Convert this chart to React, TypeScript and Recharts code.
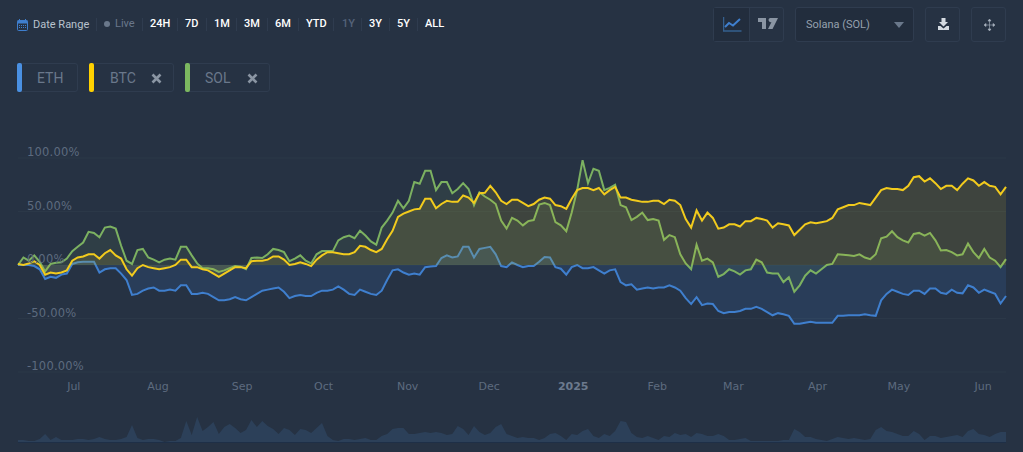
import { ComposedChart, AreaChart, Area, XAxis, YAxis, CartesianGrid } from 'recharts';

// % change, one reading every 2 days from Jun 11 2024
const ethValues = [
  0, 0, 0, -1, -4, -13, -11, -12, -9, -8, 1, 2.5, 3, 3, 3, -7, -4, -3, -3, -8,
  -14, -28, -27, -24, -22, -21, -24, -24, -23, -24, -19, -19, -27, -27, -26, -27, -30, -33, -33, -32,
  -30, -32, -33, -30, -27, -24, -23, -22, -21, -25, -31, -29, -28, -29, -29, -26, -24, -24, -23, -20,
  -23, -27, -28, -23, -25, -27, -28, -24, -14, -5, -4, -7, -9, -8, -9, -2, -1.5, -1, 6.5, 9,
  7, 8, 17, 17, 7, 15, 16, 17, 10, -1, -2, 2.5, 0, -2, -1, -1, 3, 7.5, 7, -2,
  -3.5, -9, -2, 0, -3, -3, -2, -5, -8, -5, -4, -16, -19, -18, -23, -22, -21, -22, -21, -21,
  -19, -21, -24, -31, -36.5, -30, -37.5, -36, -36.5, -43, -45, -44, -44, -43, -41, -41, -39, -41, -44, -47,
  -45, -46, -47.5, -55, -55, -54, -53, -54, -54, -54, -54, -47.5, -47.5, -47, -47, -47, -46, -47, -47.5, -33,
  -27, -23, -25, -27, -28, -24, -24, -27, -22, -22, -26, -27, -23, -26, -26.5, -19, -21, -26, -23, -25,
  -27, -36, -29,
];
const btcValues = [
  1, 0, 1.5, 3.5, 0, -9, -7, -8, -7, -5, 4, 7, 8, 10, 10, 6, 11, 14, 9, 6,
  -4, -10, -3, 0, -2, -3, -4, -3, -2, 0, 5, 5, -2, -2, -4, -5, -8, -11, -8, -5,
  -2, -2, -3, 3.5, 4, 4, 5, 8, 8, 5, 0, 1, 2.5, 1, -1, 5, 9, 12, 12, 11,
  10, 10, 12, 18, 17, 14, 12, 15, 24, 32, 45, 48, 50, 52, 52.5, 62, 62, 53, 57, 60,
  59, 59, 65, 63, 58, 67, 67.5, 74, 68, 60, 57, 61, 61, 58, 55, 57, 61, 63, 62, 56,
  55, 52.5, 62, 70, 72, 72, 70, 72, 66, 70, 73, 63, 63, 61, 60, 59, 59, 60, 60, 57,
  61, 60, 56, 43, 35, 51, 41.5, 49, 44, 34, 35, 38, 38, 36, 41, 41, 44, 43, 41.5, 35,
  39, 38, 37, 28, 33, 38, 40, 39, 40, 41, 44, 52, 54, 56, 56, 58, 57, 56, 63, 70,
  72, 71, 71, 70, 74, 82, 83, 78, 81, 76.5, 71, 74, 74, 70, 76, 81, 79, 74, 77.5, 74,
  73, 66, 73,
];
const solValues = [
  0, 7, 4, 9, 3, -6, 1, 2, 2.5, 6, 13, 17, 21, 31, 30, 26, 35, 36, 34, 18,
  4, 1, 14, 15, 7, 5, 2.5, 5, 6, 5, 17, 17, 9, 1.5, -3, -3, -4, -6.5, -5, -3,
  -1, -1.5, -4, 6.5, 7, 6.5, 10, 15, 14, 12, 3.5, 6, 9, 4, 1.5, 10, 13, 13, 13, 23,
  26, 27.5, 25, 32, 27.5, 22, 19, 35, 41.5, 49, 60, 53, 60, 77.5, 76, 88, 88, 70, 77.5, 77.5,
  67, 71, 76.5, 71, 56, 68, 64, 61, 57, 41.5, 34, 44, 41.5, 37, 41, 42, 56.5, 58, 56, 40,
  37, 31.5, 49, 70, 98, 76.5, 90, 88, 70, 72, 75, 56, 54, 42, 45, 49, 42, 43, 41.5, 23.5,
  28, 26, 10, 1.5, -4, 19, 4, 6, 2.5, -11, -8.5, -4, -6, -9, -5, -4, 5, 2.5, -7, -8,
  -8, -16, -11.5, -25, -19, -10, -5, -8, -4, 0, 1, 10, 9.5, 9, 8.5, 10, 7, 5.5, 10, 25,
  26.5, 31.5, 26, 23, 21, 29, 30, 27.5, 30, 23, 13.5, 14, 12, 9, 10, 20, 12, 6.5, 15, 7,
  4, -2, 5.5,
];
const volumeValues = [
  3, 3, 2, 2, 4, 9, 3, 6, 3, 3, 3, 4, 4, 3, 4, 6, 4, 3, 3, 4,
  6, 18, 5, 3, 4, 4, 3, 1, 2, 2, 5, 22, 8, 26, 12, 16, 21, 9, 16, 19,
  15, 10, 13, 23, 16, 22, 17, 14, 9, 15, 13, 8, 14, 13, 10, 15, 20, 7, 3, 2,
  4, 4, 3, 4, 5, 3, 3, 7, 9, 14, 15, 15, 9, 9, 10, 11, 10, 11, 10, 8,
  9, 17, 14, 8, 17, 11, 8, 10, 16, 19, 9, 7, 5, 6, 5, 5, 3, 5, 9, 10,
  7, 3, 9, 8, 12, 14, 7, 5, 9, 7, 12, 22, 21, 10, 6, 5, 7, 5, 3, 7,
  6, 10, 8, 9, 6, 10, 9, 7, 7, 9, 7, 3, 3, 4, 5, 2, 2, 2, 2, 2,
  2, 3, 3, 14, 11, 6, 6, 4, 3, 2, 4, 6, 5, 4, 5, 4, 3, 4, 13, 16,
  12, 11, 9, 7, 7, 12, 9, 3, 7, 7, 5, 6, 7, 8, 6, 12, 14, 9, 8, 6,
  9, 11, 11,
];
const monthLabels = ['Jul', 'Aug', 'Sep', 'Oct', 'Nov', 'Dec', '2025', 'Feb', 'Mar', 'Apr', 'May', 'Jun'];
const monthDays = [20, 51, 82, 112, 143, 173, 204, 235, 263, 294, 324, 355];
const yTicks = [-100, -50, 0, 50, 100];
const rangeButtons = ['24H', '7D', '1M', '3M', '6M', 'YTD', '1Y', '3Y', '5Y', 'ALL'];
const rangeLefts = [150, 185, 214, 244, 275, 306, 342, 369, 397, 425];
const rangeSeps = [96, 142, 177, 206, 236, 267, 298, 333, 361, 389, 417];

const chartData = ethValues.map((eth, i) => ({ day: i * 2, eth, btc: btcValues[i], sol: solValues[i] }));
const volumeData = volumeValues.map((volume, i) => ({ day: i * 2, volume }));

const BG = '#263243';
const BORDER = '#2f3c4f';

function YTick({ y, payload }: any) {
  return (
    <text x={27} y={y - 2} fill="#5d6b7f" fontSize={11.5} fontFamily="'DejaVu Sans'" style={{ letterSpacing: 0.2 }}>
      {payload.value.toFixed(2)}%
    </text>
  );
}

function XTick({ x, y, payload }: any) {
  const label = monthLabels[monthDays.indexOf(payload.value)];
  const bold = label === '2025';
  return (
    <text x={x + 1.5} y={y + 10} textAnchor="middle" fill={bold ? '#6c7a8e' : '#5d6b7f'} fontSize={11} fontWeight={bold ? 700 : 400} fontFamily="'DejaVu Sans'">
      {label}
    </text>
  );
}

function Chip({ left, width, color, label, textLeft, closable }: any) {
  return (
    <div style={{ position: 'absolute', left, top: 63, width, height: 29, boxSizing: 'border-box', border: `1px solid ${BORDER}`, borderRadius: 3 }}>
      <div style={{ position: 'absolute', left: -1, top: -1, width: 5, height: 29, background: color, borderRadius: 2 }} />
      <span style={{ position: 'absolute', left: textLeft, top: 6, fontSize: 14, color: '#6a788b', lineHeight: '16px' }}>{label}</span>
      {closable && (
        <svg style={{ position: 'absolute', left: width - 24, top: 9 }} width={11} height={11} viewBox="0 0 11 11">
          <path d="M1.5 1.5 L9.5 9.5 M9.5 1.5 L1.5 9.5" stroke="#8a95a3" strokeWidth={2.6} />
        </svg>
      )}
    </div>
  );
}

function Toolbar() {
  return (
    <>
      <svg style={{ position: 'absolute', left: 17, top: 19 }} width={11} height={12} viewBox="0 0 11 12">
        <rect x={0.5} y={1.5} width={10} height={10} rx={1} fill="none" stroke="#3f7fce" />
        <rect x={0.5} y={1.5} width={10} height={3} fill="#3f7fce" />
        <path d="M2.5 0 V2 M8.5 0 V2" stroke="#3f7fce" />
        <path d="M2 6.5 H9 M2 8.5 H9" stroke="#3f7fce" strokeDasharray="1 1" />
      </svg>
      <span style={{ position: 'absolute', left: 33, top: 18, fontSize: 11, color: '#b8c2ce', lineHeight: '14px' }}>Date Range</span>
      <div style={{ position: 'absolute', left: 104, top: 21, width: 6, height: 6, borderRadius: 3, background: '#6a788b' }} />
      <span style={{ position: 'absolute', left: 115, top: 17, fontSize: 11, color: '#6a788b', lineHeight: '14px' }}>Live</span>
      {rangeSeps.map((left) => (
        <div key={left} style={{ position: 'absolute', left, top: 18, width: 1, height: 13, background: BORDER }} />
      ))}
      {rangeButtons.map((label, i) => (
        <span key={label} style={{ position: 'absolute', left: rangeLefts[i], top: 17, fontSize: 11, fontWeight: 500, lineHeight: '14px', color: label === '1Y' ? '#55637a' : '#ffffff' }}>
          {label}
        </span>
      ))}

      <div style={{ position: 'absolute', left: 713, top: 7, width: 71, height: 35, boxSizing: 'border-box', border: `1px solid ${BORDER}`, borderRadius: 3 }}>
        <div style={{ position: 'absolute', left: 0, top: 0, width: 35, height: 33, background: '#222d3d', borderRight: `1px solid ${BORDER}` }} />
        <svg style={{ position: 'absolute', left: 9, top: 9 }} width={19} height={15} viewBox="0 0 19 15">
          <path d="M0.5 0 V14 H18.5" fill="none" stroke="#35608f" strokeWidth={1.5} />
          <path d="M2 10 L6 6 L10 8.5 L17 2" fill="none" stroke="#3f7fce" strokeWidth={2} />
        </svg>
        <svg style={{ position: 'absolute', left: 44, top: 10 }} width={20} height={12} viewBox="0 0 20 12">
          <path d="M0 0 H8 V11 H4 V4 H0 Z M12 0 H20 L14.5 11 H10 L13.5 4 A2 2 0 1 1 12 0 Z" fill="#8a95a3" />
        </svg>
      </div>

      <div style={{ position: 'absolute', left: 795, top: 7, width: 119, height: 35, boxSizing: 'border-box', border: `1px solid ${BORDER}`, borderRadius: 3, background: '#222d3d' }}>
        <span style={{ position: 'absolute', left: 10, top: 10, fontSize: 11, color: '#96a1ae', lineHeight: '14px' }}>Solana (SOL)</span>
        <svg style={{ position: 'absolute', left: 98, top: 14 }} width={10} height={6} viewBox="0 0 10 6">
          <path d="M0 0 H10 L5 6 Z" fill="#6a788b" />
        </svg>
      </div>

      <div style={{ position: 'absolute', left: 925, top: 7, width: 35, height: 35, boxSizing: 'border-box', border: `1px solid ${BORDER}`, borderRadius: 3 }}>
        <svg style={{ position: 'absolute', left: 12, top: 10 }} width={11} height={12} viewBox="0 0 11 12">
          <path d="M3.5 0 H7.5 V4 H10 L5.5 8.5 L1 4 H3.5 Z M0 8 H2.5 L5.5 10.5 L8.5 8 H11 V12 H0 Z" fill="#d5dbe2" />
        </svg>
      </div>

      <div style={{ position: 'absolute', left: 971, top: 7, width: 35, height: 35, boxSizing: 'border-box', border: `1px solid ${BORDER}`, borderRadius: 3 }}>
        <svg style={{ position: 'absolute', left: 12, top: 11 }} width={11} height={12} viewBox="0 0 11 12">
          <path d="M5.5 0 L7 2 H4 Z M5.5 12 L7 10 H4 Z M0 6 L2 4.5 V7.5 Z M11 6 L9 4.5 V7.5 Z M5.5 1.5 V10.5 M1.5 6 H9.5" fill="#aab3bf" stroke="#aab3bf" strokeWidth={0.6} />
        </svg>
      </div>

      <Chip left={17} width={61} color="#4a90e2" label="ETH" textLeft={19} />
      <Chip left={89} width={85} color="#ffd100" label="BTC" textLeft={20} closable />
      <Chip left={185} width={85} color="#7cb860" label="SOL" textLeft={19} closable />
    </>
  );
}

export default function App() {
  return (
    <div style={{ position: 'absolute', left: 0, top: 0, width: 1023, height: 452, overflow: 'hidden', background: BG, fontFamily: 'Roboto' }}>
      <Toolbar />
      <div style={{ position: 'absolute', left: 0, top: 0 }}>
        <ComposedChart width={1023} height={452} data={chartData} margin={{ top: 158, right: 17, bottom: 50, left: 17 }}>
          <CartesianGrid horizontal vertical={false} stroke="#2b3848" />
          <XAxis
            dataKey="day"
            type="number"
            domain={[0, 364]}
            ticks={monthDays}
            interval={0}
            height={30}
            axisLine={false}
            tickLine={false}
            tick={<XTick />}
          />
          <YAxis
            type="number"
            domain={[-100, 100]}
            ticks={yTicks}
            width={1}
            axisLine={false}
            tickLine={false}
            tick={<YTick />}
          />
          <Area dataKey="eth" type="linear" baseValue={0} stroke="#3f7fce" strokeWidth={2} fill="#3f7fce" fillOpacity={0.16} dot={false} isAnimationActive={false} />
          <Area dataKey="sol" type="linear" baseValue={0} stroke="#7cb161" strokeWidth={2} fill="#7cb161" fillOpacity={0.1} dot={false} isAnimationActive={false} />
          <Area dataKey="btc" type="linear" baseValue={0} stroke="#f2cb1d" strokeWidth={2} fill="#f2cb1d" fillOpacity={0.12} dot={false} isAnimationActive={false} />
        </ComposedChart>
      </div>
      <div style={{ position: 'absolute', left: 18, top: 412 }}>
        <AreaChart width={988} height={31} data={volumeData} margin={{ top: 0, right: 0, bottom: 0, left: 0 }}>
          <XAxis dataKey="day" type="number" domain={[0, 364]} hide />
          <YAxis type="number" domain={[0, 31]} hide />
          <Area dataKey="volume" type="linear" stroke="#1f3048" strokeWidth={0} fill="#2c4059" fillOpacity={1} dot={false} isAnimationActive={false} />
        </AreaChart>
        <div style={{ position: 'absolute', left: 0, top: 30, width: 988, height: 1, background: '#1e2f47' }} />
      </div>
    </div>
  );
}
